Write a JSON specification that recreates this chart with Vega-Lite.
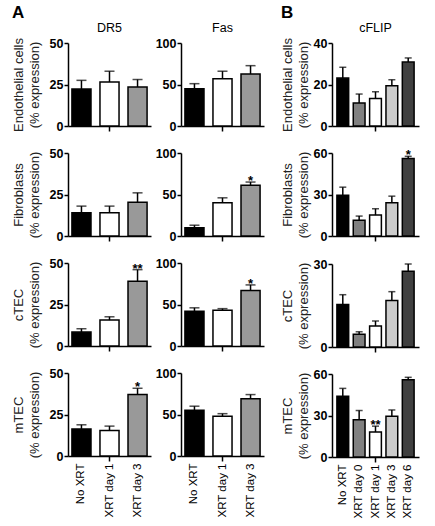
{
"$schema":"https://vega.github.io/schema/vega-lite/v6.json",
"padding":{"left":12,"top":3,"right":5,"bottom":3},
"data":{"values":[
{"gene":"DR5","cell":"Endo","group":"No XRT","value":22.3,"upper":27.5,"sig":""},
{"gene":"DR5","cell":"Endo","group":"XRT day 1","value":26.5,"upper":33,"sig":""},
{"gene":"DR5","cell":"Endo","group":"XRT day 3","value":23.5,"upper":28,"sig":""},
{"gene":"Fas","cell":"Endo","group":"No XRT","value":45,"upper":51,"sig":""},
{"gene":"Fas","cell":"Endo","group":"XRT day 1","value":57,"upper":66,"sig":""},
{"gene":"Fas","cell":"Endo","group":"XRT day 3","value":62.7,"upper":72.7,"sig":""},
{"gene":"cFLIP","cell":"Endo","group":"No XRT","value":23.1,"upper":28.3,"sig":""},
{"gene":"cFLIP","cell":"Endo","group":"XRT day 0","value":11.1,"upper":15.4,"sig":""},
{"gene":"cFLIP","cell":"Endo","group":"XRT day 1","value":13.2,"upper":16.5,"sig":""},
{"gene":"cFLIP","cell":"Endo","group":"XRT day 3","value":19.4,"upper":22.3,"sig":""},
{"gene":"cFLIP","cell":"Endo","group":"XRT day 6","value":30.8,"upper":32.8,"sig":""},
{"gene":"DR5","cell":"Fibro","group":"No XRT","value":14,"upper":18,"sig":""},
{"gene":"DR5","cell":"Fibro","group":"XRT day 1","value":14,"upper":18,"sig":""},
{"gene":"DR5","cell":"Fibro","group":"XRT day 3","value":20.4,"upper":26,"sig":""},
{"gene":"Fas","cell":"Fibro","group":"No XRT","value":10,"upper":13,"sig":""},
{"gene":"Fas","cell":"Fibro","group":"XRT day 1","value":40,"upper":46,"sig":""},
{"gene":"Fas","cell":"Fibro","group":"XRT day 3","value":61,"upper":65,"sig":"*"},
{"gene":"cFLIP","cell":"Fibro","group":"No XRT","value":29.5,"upper":35.3,"sig":""},
{"gene":"cFLIP","cell":"Fibro","group":"XRT day 0","value":11.3,"upper":14.4,"sig":""},
{"gene":"cFLIP","cell":"Fibro","group":"XRT day 1","value":15.1,"upper":19.7,"sig":""},
{"gene":"cFLIP","cell":"Fibro","group":"XRT day 3","value":24,"upper":28.8,"sig":""},
{"gene":"cFLIP","cell":"Fibro","group":"XRT day 6","value":56,"upper":57.6,"sig":"*"},
{"gene":"DR5","cell":"cTEC","group":"No XRT","value":8.4,"upper":10.4,"sig":""},
{"gene":"DR5","cell":"cTEC","group":"XRT day 1","value":15.6,"upper":17.6,"sig":""},
{"gene":"DR5","cell":"cTEC","group":"XRT day 3","value":39,"upper":46,"sig":"**"},
{"gene":"Fas","cell":"cTEC","group":"No XRT","value":42,"upper":46,"sig":""},
{"gene":"Fas","cell":"cTEC","group":"XRT day 1","value":43,"upper":45,"sig":""},
{"gene":"Fas","cell":"cTEC","group":"XRT day 3","value":67,"upper":73.6,"sig":"*"},
{"gene":"cFLIP","cell":"cTEC","group":"No XRT","value":15.4,"upper":18.9,"sig":""},
{"gene":"cFLIP","cell":"cTEC","group":"XRT day 0","value":4.6,"upper":5.5,"sig":""},
{"gene":"cFLIP","cell":"cTEC","group":"XRT day 1","value":7.6,"upper":9.4,"sig":""},
{"gene":"cFLIP","cell":"cTEC","group":"XRT day 3","value":16.8,"upper":20,"sig":""},
{"gene":"cFLIP","cell":"cTEC","group":"XRT day 6","value":27.4,"upper":30,"sig":""},
{"gene":"DR5","cell":"mTEC","group":"No XRT","value":16.3,"upper":18.8,"sig":""},
{"gene":"DR5","cell":"mTEC","group":"XRT day 1","value":15.3,"upper":18,"sig":""},
{"gene":"DR5","cell":"mTEC","group":"XRT day 3","value":37,"upper":40.8,"sig":"*"},
{"gene":"Fas","cell":"mTEC","group":"No XRT","value":55,"upper":60,"sig":""},
{"gene":"Fas","cell":"mTEC","group":"XRT day 1","value":48,"upper":51,"sig":""},
{"gene":"Fas","cell":"mTEC","group":"XRT day 3","value":69,"upper":74,"sig":""},
{"gene":"cFLIP","cell":"mTEC","group":"No XRT","value":44,"upper":49.6,"sig":""},
{"gene":"cFLIP","cell":"mTEC","group":"XRT day 0","value":27,"upper":33.6,"sig":""},
{"gene":"cFLIP","cell":"mTEC","group":"XRT day 1","value":18.1,"upper":22.3,"sig":"**"},
{"gene":"cFLIP","cell":"mTEC","group":"XRT day 3","value":29.4,"upper":34,"sig":""},
{"gene":"cFLIP","cell":"mTEC","group":"XRT day 6","value":55.8,"upper":57.6,"sig":""}
]},
"spacing":17,
"resolve":{"scale":{"color":"independent"}},
"hconcat":[
{"title":{"text":"A","anchor":"start","fontSize":17,"fontWeight":"bold","offset":0},
 "spacing":4,
 "hconcat":[
  {"spacing":14,"vconcat":[
   {"width":83,"height":83,"title":{"text":"DR5"},
    "transform":[{"filter":"datum.gene==='DR5' && datum.cell==='Endo'"}],
    "encoding":{"x":{"field":"group","type":"nominal","title":null,"scale":{"domain":["No XRT","XRT day 1","XRT day 3"],"paddingInner":0.32,"paddingOuter":0.14},"axis":{"labels":false,"tickOpacity":{"condition":{"test":"datum.value==='XRT day 1'","value":1},"value":0}}}},
    "layer":[
     {"mark":{"type":"bar","stroke":"#000","strokeWidth":1.5},"encoding":{"y":{"field":"value","type":"quantitative","title":["Endothelial cells","(% expression)"],"scale":{"domain":[0,50]},"axis":{"values":[0,25,50],"titlePadding":8}},"color":{"field":"group","type":"nominal","scale":{"domain":["No XRT","XRT day 1","XRT day 3"],"range":["#000000","#ffffff","#999999"]},"legend":null}}},
     {"mark":{"type":"rule","color":"#000","strokeWidth":1.5},"encoding":{"y":{"field":"value","type":"quantitative","title":["Endothelial cells","(% expression)"],"scale":{"domain":[0,50]}},"y2":{"field":"upper"}}},
     {"mark":{"type":"tick","color":"#000","thickness":1.5,"size":10},"encoding":{"y":{"field":"upper","type":"quantitative","title":["Endothelial cells","(% expression)"],"scale":{"domain":[0,50]}}}},
     {"mark":{"type":"text","fontSize":13,"fontWeight":"bold","dy":3,"baseline":"alphabetic"},"encoding":{"y":{"field":"upper","type":"quantitative","title":["Endothelial cells","(% expression)"],"scale":{"domain":[0,50]}},"text":{"field":"sig"}}}
    ]},
   {"width":83,"height":83,
    "transform":[{"filter":"datum.gene==='DR5' && datum.cell==='Fibro'"}],
    "encoding":{"x":{"field":"group","type":"nominal","title":null,"scale":{"domain":["No XRT","XRT day 1","XRT day 3"],"paddingInner":0.32,"paddingOuter":0.14},"axis":{"labels":false,"tickOpacity":{"condition":{"test":"datum.value==='XRT day 1'","value":1},"value":0}}}},
    "layer":[
     {"mark":{"type":"bar","stroke":"#000","strokeWidth":1.5},"encoding":{"y":{"field":"value","type":"quantitative","title":["Fibroblasts","(% expression)"],"scale":{"domain":[0,50]},"axis":{"values":[0,25,50],"titlePadding":8}},"color":{"field":"group","type":"nominal","scale":{"domain":["No XRT","XRT day 1","XRT day 3"],"range":["#000000","#ffffff","#999999"]},"legend":null}}},
     {"mark":{"type":"rule","color":"#000","strokeWidth":1.5},"encoding":{"y":{"field":"value","type":"quantitative","title":["Fibroblasts","(% expression)"],"scale":{"domain":[0,50]}},"y2":{"field":"upper"}}},
     {"mark":{"type":"tick","color":"#000","thickness":1.5,"size":10},"encoding":{"y":{"field":"upper","type":"quantitative","title":["Fibroblasts","(% expression)"],"scale":{"domain":[0,50]}}}},
     {"mark":{"type":"text","fontSize":13,"fontWeight":"bold","dy":3,"baseline":"alphabetic"},"encoding":{"y":{"field":"upper","type":"quantitative","title":["Fibroblasts","(% expression)"],"scale":{"domain":[0,50]}},"text":{"field":"sig"}}}
    ]},
   {"width":83,"height":83,
    "transform":[{"filter":"datum.gene==='DR5' && datum.cell==='cTEC'"}],
    "encoding":{"x":{"field":"group","type":"nominal","title":null,"scale":{"domain":["No XRT","XRT day 1","XRT day 3"],"paddingInner":0.32,"paddingOuter":0.14},"axis":{"labels":false,"tickOpacity":{"condition":{"test":"datum.value==='XRT day 1'","value":1},"value":0}}}},
    "layer":[
     {"mark":{"type":"bar","stroke":"#000","strokeWidth":1.5},"encoding":{"y":{"field":"value","type":"quantitative","title":["cTEC","(% expression)"],"scale":{"domain":[0,50]},"axis":{"values":[0,25,50],"titlePadding":8}},"color":{"field":"group","type":"nominal","scale":{"domain":["No XRT","XRT day 1","XRT day 3"],"range":["#000000","#ffffff","#999999"]},"legend":null}}},
     {"mark":{"type":"rule","color":"#000","strokeWidth":1.5},"encoding":{"y":{"field":"value","type":"quantitative","title":["cTEC","(% expression)"],"scale":{"domain":[0,50]}},"y2":{"field":"upper"}}},
     {"mark":{"type":"tick","color":"#000","thickness":1.5,"size":10},"encoding":{"y":{"field":"upper","type":"quantitative","title":["cTEC","(% expression)"],"scale":{"domain":[0,50]}}}},
     {"mark":{"type":"text","fontSize":13,"fontWeight":"bold","dy":3,"baseline":"alphabetic"},"encoding":{"y":{"field":"upper","type":"quantitative","title":["cTEC","(% expression)"],"scale":{"domain":[0,50]}},"text":{"field":"sig"}}}
    ]},
   {"width":83,"height":83,
    "transform":[{"filter":"datum.gene==='DR5' && datum.cell==='mTEC'"}],
    "encoding":{"x":{"field":"group","type":"nominal","title":null,"scale":{"domain":["No XRT","XRT day 1","XRT day 3"],"paddingInner":0.32,"paddingOuter":0.14},"axis":{"labels":true,"tickOpacity":{"condition":{"test":"datum.value==='XRT day 1'","value":1},"value":0}}}},
    "layer":[
     {"mark":{"type":"bar","stroke":"#000","strokeWidth":1.5},"encoding":{"y":{"field":"value","type":"quantitative","title":["mTEC","(% expression)"],"scale":{"domain":[0,50]},"axis":{"values":[0,25,50],"titlePadding":8}},"color":{"field":"group","type":"nominal","scale":{"domain":["No XRT","XRT day 1","XRT day 3"],"range":["#000000","#ffffff","#999999"]},"legend":null}}},
     {"mark":{"type":"rule","color":"#000","strokeWidth":1.5},"encoding":{"y":{"field":"value","type":"quantitative","title":["mTEC","(% expression)"],"scale":{"domain":[0,50]}},"y2":{"field":"upper"}}},
     {"mark":{"type":"tick","color":"#000","thickness":1.5,"size":10},"encoding":{"y":{"field":"upper","type":"quantitative","title":["mTEC","(% expression)"],"scale":{"domain":[0,50]}}}},
     {"mark":{"type":"text","fontSize":13,"fontWeight":"bold","dy":3,"baseline":"alphabetic"},"encoding":{"y":{"field":"upper","type":"quantitative","title":["mTEC","(% expression)"],"scale":{"domain":[0,50]}},"text":{"field":"sig"}}}
    ]}
  ]},
  {"spacing":14,"vconcat":[
   {"width":83,"height":83,"title":{"text":"Fas"},
    "transform":[{"filter":"datum.gene==='Fas' && datum.cell==='Endo'"}],
    "encoding":{"x":{"field":"group","type":"nominal","title":null,"scale":{"domain":["No XRT","XRT day 1","XRT day 3"],"paddingInner":0.32,"paddingOuter":0.14},"axis":{"labels":false,"tickOpacity":{"condition":{"test":"datum.value==='XRT day 1'","value":1},"value":0}}}},
    "layer":[
     {"mark":{"type":"bar","stroke":"#000","strokeWidth":1.5},"encoding":{"y":{"field":"value","type":"quantitative","title":null,"scale":{"domain":[0,100]},"axis":{"values":[0,50,100]}},"color":{"field":"group","type":"nominal","scale":{"domain":["No XRT","XRT day 1","XRT day 3"],"range":["#000000","#ffffff","#999999"]},"legend":null}}},
     {"mark":{"type":"rule","color":"#000","strokeWidth":1.5},"encoding":{"y":{"field":"value","type":"quantitative","title":null,"scale":{"domain":[0,100]}},"y2":{"field":"upper"}}},
     {"mark":{"type":"tick","color":"#000","thickness":1.5,"size":10},"encoding":{"y":{"field":"upper","type":"quantitative","title":null,"scale":{"domain":[0,100]}}}},
     {"mark":{"type":"text","fontSize":13,"fontWeight":"bold","dy":3,"baseline":"alphabetic"},"encoding":{"y":{"field":"upper","type":"quantitative","title":null,"scale":{"domain":[0,100]}},"text":{"field":"sig"}}}
    ]},
   {"width":83,"height":83,
    "transform":[{"filter":"datum.gene==='Fas' && datum.cell==='Fibro'"}],
    "encoding":{"x":{"field":"group","type":"nominal","title":null,"scale":{"domain":["No XRT","XRT day 1","XRT day 3"],"paddingInner":0.32,"paddingOuter":0.14},"axis":{"labels":false,"tickOpacity":{"condition":{"test":"datum.value==='XRT day 1'","value":1},"value":0}}}},
    "layer":[
     {"mark":{"type":"bar","stroke":"#000","strokeWidth":1.5},"encoding":{"y":{"field":"value","type":"quantitative","title":null,"scale":{"domain":[0,100]},"axis":{"values":[0,50,100]}},"color":{"field":"group","type":"nominal","scale":{"domain":["No XRT","XRT day 1","XRT day 3"],"range":["#000000","#ffffff","#999999"]},"legend":null}}},
     {"mark":{"type":"rule","color":"#000","strokeWidth":1.5},"encoding":{"y":{"field":"value","type":"quantitative","title":null,"scale":{"domain":[0,100]}},"y2":{"field":"upper"}}},
     {"mark":{"type":"tick","color":"#000","thickness":1.5,"size":10},"encoding":{"y":{"field":"upper","type":"quantitative","title":null,"scale":{"domain":[0,100]}}}},
     {"mark":{"type":"text","fontSize":13,"fontWeight":"bold","dy":3,"baseline":"alphabetic"},"encoding":{"y":{"field":"upper","type":"quantitative","title":null,"scale":{"domain":[0,100]}},"text":{"field":"sig"}}}
    ]},
   {"width":83,"height":83,
    "transform":[{"filter":"datum.gene==='Fas' && datum.cell==='cTEC'"}],
    "encoding":{"x":{"field":"group","type":"nominal","title":null,"scale":{"domain":["No XRT","XRT day 1","XRT day 3"],"paddingInner":0.32,"paddingOuter":0.14},"axis":{"labels":false,"tickOpacity":{"condition":{"test":"datum.value==='XRT day 1'","value":1},"value":0}}}},
    "layer":[
     {"mark":{"type":"bar","stroke":"#000","strokeWidth":1.5},"encoding":{"y":{"field":"value","type":"quantitative","title":null,"scale":{"domain":[0,100]},"axis":{"values":[0,50,100]}},"color":{"field":"group","type":"nominal","scale":{"domain":["No XRT","XRT day 1","XRT day 3"],"range":["#000000","#ffffff","#999999"]},"legend":null}}},
     {"mark":{"type":"rule","color":"#000","strokeWidth":1.5},"encoding":{"y":{"field":"value","type":"quantitative","title":null,"scale":{"domain":[0,100]}},"y2":{"field":"upper"}}},
     {"mark":{"type":"tick","color":"#000","thickness":1.5,"size":10},"encoding":{"y":{"field":"upper","type":"quantitative","title":null,"scale":{"domain":[0,100]}}}},
     {"mark":{"type":"text","fontSize":13,"fontWeight":"bold","dy":3,"baseline":"alphabetic"},"encoding":{"y":{"field":"upper","type":"quantitative","title":null,"scale":{"domain":[0,100]}},"text":{"field":"sig"}}}
    ]},
   {"width":83,"height":83,
    "transform":[{"filter":"datum.gene==='Fas' && datum.cell==='mTEC'"}],
    "encoding":{"x":{"field":"group","type":"nominal","title":null,"scale":{"domain":["No XRT","XRT day 1","XRT day 3"],"paddingInner":0.32,"paddingOuter":0.14},"axis":{"labels":true,"tickOpacity":{"condition":{"test":"datum.value==='XRT day 1'","value":1},"value":0}}}},
    "layer":[
     {"mark":{"type":"bar","stroke":"#000","strokeWidth":1.5},"encoding":{"y":{"field":"value","type":"quantitative","title":null,"scale":{"domain":[0,100]},"axis":{"values":[0,50,100]}},"color":{"field":"group","type":"nominal","scale":{"domain":["No XRT","XRT day 1","XRT day 3"],"range":["#000000","#ffffff","#999999"]},"legend":null}}},
     {"mark":{"type":"rule","color":"#000","strokeWidth":1.5},"encoding":{"y":{"field":"value","type":"quantitative","title":null,"scale":{"domain":[0,100]}},"y2":{"field":"upper"}}},
     {"mark":{"type":"tick","color":"#000","thickness":1.5,"size":10},"encoding":{"y":{"field":"upper","type":"quantitative","title":null,"scale":{"domain":[0,100]}}}},
     {"mark":{"type":"text","fontSize":13,"fontWeight":"bold","dy":3,"baseline":"alphabetic"},"encoding":{"y":{"field":"upper","type":"quantitative","title":null,"scale":{"domain":[0,100]}},"text":{"field":"sig"}}}
    ]}
  ]}
 ]},
{"title":{"text":"B","anchor":"start","fontSize":17,"fontWeight":"bold","offset":0},
 "spacing":14,
 "vconcat":[
   {"width":87,"height":83,"title":{"text":"cFLIP"},
    "transform":[{"filter":"datum.gene==='cFLIP' && datum.cell==='Endo'"}],
    "encoding":{"x":{"field":"group","type":"nominal","title":null,"scale":{"domain":["No XRT","XRT day 0","XRT day 1","XRT day 3","XRT day 6"],"paddingInner":0.28,"paddingOuter":0.3},"axis":{"labels":false,"tickOpacity":{"condition":{"test":"datum.value==='XRT day 1'","value":1},"value":0}}}},
    "layer":[
     {"mark":{"type":"bar","stroke":"#000","strokeWidth":1.5},"encoding":{"y":{"field":"value","type":"quantitative","title":["Endothelial cells","(% expression)"],"scale":{"domain":[0,40]},"axis":{"values":[0,20,40]}},"color":{"field":"group","type":"nominal","scale":{"domain":["No XRT","XRT day 0","XRT day 1","XRT day 3","XRT day 6"],"range":["#000000","#808080","#ffffff","#cccccc","#404040"]},"legend":null}}},
     {"mark":{"type":"rule","color":"#000","strokeWidth":1.5},"encoding":{"y":{"field":"value","type":"quantitative","title":["Endothelial cells","(% expression)"],"scale":{"domain":[0,40]}},"y2":{"field":"upper"}}},
     {"mark":{"type":"tick","color":"#000","thickness":1.5,"size":7},"encoding":{"y":{"field":"upper","type":"quantitative","title":["Endothelial cells","(% expression)"],"scale":{"domain":[0,40]}}}},
     {"mark":{"type":"text","fontSize":13,"fontWeight":"bold","dy":3,"baseline":"alphabetic"},"encoding":{"y":{"field":"upper","type":"quantitative","title":["Endothelial cells","(% expression)"],"scale":{"domain":[0,40]}},"text":{"field":"sig"}}}
    ]},
   {"width":87,"height":83,
    "transform":[{"filter":"datum.gene==='cFLIP' && datum.cell==='Fibro'"}],
    "encoding":{"x":{"field":"group","type":"nominal","title":null,"scale":{"domain":["No XRT","XRT day 0","XRT day 1","XRT day 3","XRT day 6"],"paddingInner":0.28,"paddingOuter":0.3},"axis":{"labels":false,"tickOpacity":{"condition":{"test":"datum.value==='XRT day 1'","value":1},"value":0}}}},
    "layer":[
     {"mark":{"type":"bar","stroke":"#000","strokeWidth":1.5},"encoding":{"y":{"field":"value","type":"quantitative","title":["Fibroblasts","(% expression)"],"scale":{"domain":[0,60]},"axis":{"values":[0,30,60]}},"color":{"field":"group","type":"nominal","scale":{"domain":["No XRT","XRT day 0","XRT day 1","XRT day 3","XRT day 6"],"range":["#000000","#808080","#ffffff","#cccccc","#404040"]},"legend":null}}},
     {"mark":{"type":"rule","color":"#000","strokeWidth":1.5},"encoding":{"y":{"field":"value","type":"quantitative","title":["Fibroblasts","(% expression)"],"scale":{"domain":[0,60]}},"y2":{"field":"upper"}}},
     {"mark":{"type":"tick","color":"#000","thickness":1.5,"size":7},"encoding":{"y":{"field":"upper","type":"quantitative","title":["Fibroblasts","(% expression)"],"scale":{"domain":[0,60]}}}},
     {"mark":{"type":"text","fontSize":13,"fontWeight":"bold","dy":3,"baseline":"alphabetic"},"encoding":{"y":{"field":"upper","type":"quantitative","title":["Fibroblasts","(% expression)"],"scale":{"domain":[0,60]}},"text":{"field":"sig"}}}
    ]},
   {"width":87,"height":83,
    "transform":[{"filter":"datum.gene==='cFLIP' && datum.cell==='cTEC'"}],
    "encoding":{"x":{"field":"group","type":"nominal","title":null,"scale":{"domain":["No XRT","XRT day 0","XRT day 1","XRT day 3","XRT day 6"],"paddingInner":0.28,"paddingOuter":0.3},"axis":{"labels":false,"tickOpacity":{"condition":{"test":"datum.value==='XRT day 1'","value":1},"value":0}}}},
    "layer":[
     {"mark":{"type":"bar","stroke":"#000","strokeWidth":1.5},"encoding":{"y":{"field":"value","type":"quantitative","title":["cTEC","(% expression)"],"scale":{"domain":[0,30]},"axis":{"values":[0,30]}},"color":{"field":"group","type":"nominal","scale":{"domain":["No XRT","XRT day 0","XRT day 1","XRT day 3","XRT day 6"],"range":["#000000","#808080","#ffffff","#cccccc","#404040"]},"legend":null}}},
     {"mark":{"type":"rule","color":"#000","strokeWidth":1.5},"encoding":{"y":{"field":"value","type":"quantitative","title":["cTEC","(% expression)"],"scale":{"domain":[0,30]}},"y2":{"field":"upper"}}},
     {"mark":{"type":"tick","color":"#000","thickness":1.5,"size":7},"encoding":{"y":{"field":"upper","type":"quantitative","title":["cTEC","(% expression)"],"scale":{"domain":[0,30]}}}},
     {"mark":{"type":"text","fontSize":13,"fontWeight":"bold","dy":3,"baseline":"alphabetic"},"encoding":{"y":{"field":"upper","type":"quantitative","title":["cTEC","(% expression)"],"scale":{"domain":[0,30]}},"text":{"field":"sig"}}}
    ]},
   {"width":87,"height":83,
    "transform":[{"filter":"datum.gene==='cFLIP' && datum.cell==='mTEC'"}],
    "encoding":{"x":{"field":"group","type":"nominal","title":null,"scale":{"domain":["No XRT","XRT day 0","XRT day 1","XRT day 3","XRT day 6"],"paddingInner":0.28,"paddingOuter":0.3},"axis":{"labels":true,"tickOpacity":{"condition":{"test":"datum.value==='XRT day 1'","value":1},"value":0}}}},
    "layer":[
     {"mark":{"type":"bar","stroke":"#000","strokeWidth":1.5},"encoding":{"y":{"field":"value","type":"quantitative","title":["mTEC","(% expression)"],"scale":{"domain":[0,60]},"axis":{"values":[0,30,60]}},"color":{"field":"group","type":"nominal","scale":{"domain":["No XRT","XRT day 0","XRT day 1","XRT day 3","XRT day 6"],"range":["#000000","#808080","#ffffff","#cccccc","#404040"]},"legend":null}}},
     {"mark":{"type":"rule","color":"#000","strokeWidth":1.5},"encoding":{"y":{"field":"value","type":"quantitative","title":["mTEC","(% expression)"],"scale":{"domain":[0,60]}},"y2":{"field":"upper"}}},
     {"mark":{"type":"tick","color":"#000","thickness":1.5,"size":7},"encoding":{"y":{"field":"upper","type":"quantitative","title":["mTEC","(% expression)"],"scale":{"domain":[0,60]}}}},
     {"mark":{"type":"text","fontSize":13,"fontWeight":"bold","dy":3,"baseline":"alphabetic"},"encoding":{"y":{"field":"upper","type":"quantitative","title":["mTEC","(% expression)"],"scale":{"domain":[0,60]}},"text":{"field":"sig"}}}
    ]}
 ]}
],
"config":{
 "font":"Liberation Sans",
 "view":{"stroke":null},
 "title":{"fontSize":12.5,"fontWeight":"normal","offset":3,"color":"#000","font":"Liberation Sans"},
 "axis":{"grid":false,"domainColor":"#000","domainWidth":1.5,"tickColor":"#000","tickWidth":1.5,"tickSize":4,"labelColor":"#000","labelFont":"Liberation Sans","titleFont":"Liberation Sans","titleColor":"#222"},
 "axisY":{"labelFontWeight":"bold","labelFontSize":12.5,"labelPadding":1,"titleFontWeight":"normal","titleFontSize":13,"titleLineHeight":16,"titlePadding":3},
 "axisX":{"labelAngle":-90,"labelFontSize":11.5,"labelPadding":2,"tickSize":5}
}
}
